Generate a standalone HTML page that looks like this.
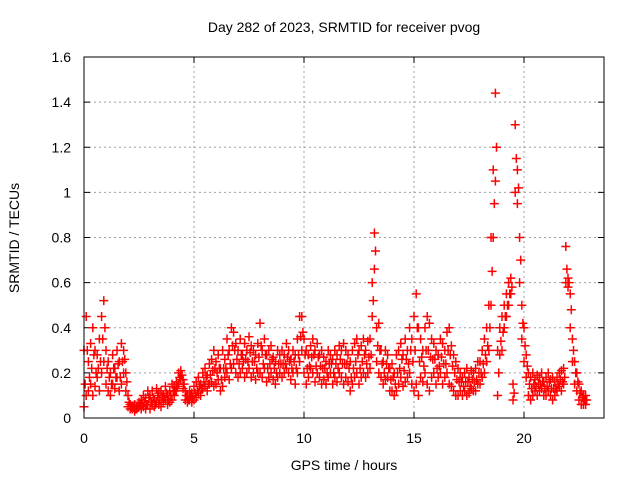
<!DOCTYPE html>
<html><head><meta charset="utf-8"><style>
body{margin:0;background:#fff}
svg{display:block;font-family:"Liberation Sans",sans-serif}
</style></head><body>
<svg id="chart" width="640" height="480">
<text x="344" y="32" text-anchor="middle" font-size="14">Day 282 of 2023, SRMTID for receiver pvog</text>
<text x="344" y="470" text-anchor="middle" font-size="14">GPS time / hours</text>
<text transform="translate(19,238) rotate(-90)" text-anchor="middle" font-size="14">SRMTID / TECUs</text>
<g id="grid"></g><g id="ticks"></g><g id="marks"></g>
<rect x="84" y="57" width="520" height="361" fill="none" stroke="#000" stroke-width="1"/>
</svg>
<script>
const startHour = 0, stepHour = 0.1, midOffset = 0.05;
const xTicks = [0,5,10,15,20];
const yTicks = [0,0.2,0.4,0.6,0.8,1,1.2,1.4,1.6];
const yTickLabels = ["0","0.2","0.4","0.6","0.8","1","1.2","1.4","1.6"];
const srmtidHigh = [
.30,.45,.25,.33,.40,.30,.28,.35,.45,.52,
.30,.25,.20,.28,.22,.30,.25,.33,.30,.20,
.10,.06,.05,.06,.05,.07,.08,.10,.09,.12,
.10,.12,.08,.13,.11,.12,.10,.14,.10,.12,
.15,.14,.16,.20,.21,.17,.12,.10,.12,.11,
.14,.16,.18,.15,.20,.22,.19,.24,.26,.30,
.25,.28,.22,.30,.26,.35,.30,.40,.38,.33,
.30,.35,.28,.33,.30,.36,.32,.30,.28,.33,
.42,.30,.35,.28,.30,.32,.27,.25,.30,.28,
.30,.28,.33,.30,.26,.30,.28,.35,.45,.45,
.35,.30,.28,.32,.35,.30,.33,.28,.30,.27,
.25,.30,.28,.26,.30,.28,.32,.30,.33,.30,
.28,.25,.30,.33,.35,.30,.32,.35,.30,.34,
.35,.60,.82,.40,.42,.30,.25,.30,.28,.22,
.24,.20,.28,.30,.33,.28,.35,.30,.40,.35,
.45,.55,.40,.35,.30,.40,.45,.42,.35,.33,
.30,.28,.35,.33,.30,.38,.40,.32,.28,.25,
.22,.20,.18,.20,.22,.18,.21,.20,.22,.25,
.25,.30,.35,.40,.50,.80,1.10,1.44,.30,.40,
.45,.50,.55,.60,.62,.15,1.30,1.10,.80,.50,
.40,.28,.20,.18,.20,.17,.19,.18,.20,.16,
.18,.20,.17,.18,.16,.18,.20,.21,.22,.76,
.62,.55,.35,.25,.20,.15,.12,.10,.10];
const srmtidMid = [
.15,.30,.18,.22,.28,.20,.22,.25,.35,.40,
.22,.18,.15,.22,.18,.24,.18,.25,.26,.16,
.07,.05,.05,.04,.05,.06,.06,.07,.06,.09,
.07,.09,.06,.10,.08,.09,.09,.11,.08,.10,
.12,.12,.14,.18,.19,.15,.10,.08,.10,.09,
.11,.12,.14,.13,.16,.18,.15,.19,.21,.22,
.20,.22,.17,.22,.22,.28,.24,.32,.30,.26,
.24,.28,.25,.26,.25,.29,.25,.25,.22,.27,
.32,.24,.28,.22,.24,.26,.22,.20,.24,.24,
.24,.24,.27,.25,.22,.25,.22,.28,.36,.38,
.28,.22,.23,.27,.28,.23,.27,.23,.22,.22,
.20,.24,.24,.20,.24,.22,.26,.24,.24,.24,
.22,.18,.22,.25,.28,.22,.25,.28,.24,.27,
.28,.52,.74,.32,.30,.24,.20,.24,.22,.17,
.18,.15,.20,.22,.26,.21,.26,.24,.30,.25,
.30,.40,.25,.27,.23,.30,.30,.27,.26,.26,
.22,.23,.27,.24,.24,.30,.28,.23,.20,.17,
.16,.16,.14,.16,.16,.14,.17,.16,.17,.20,
.20,.24,.28,.32,.40,.65,.95,1.20,.20,.34,
.38,.45,.50,.55,.58,.11,1.15,1.02,.70,.42,
.32,.23,.15,.13,.15,.14,.15,.15,.16,.13,
.14,.16,.13,.13,.13,.15,.17,.16,.18,.66,
.60,.48,.30,.20,.16,.11,.09,.08,.08];
const srmtidLow = [
.05,.10,.12,.15,.10,.14,.18,.12,.20,.25,
.15,.12,.10,.15,.13,.18,.12,.15,.20,.12,
.05,.04,.04,.03,.04,.05,.04,.05,.04,.06,
.04,.06,.05,.07,.06,.05,.07,.08,.06,.07,
.08,.10,.12,.15,.17,.13,.08,.07,.08,.07,
.08,.09,.11,.10,.13,.14,.12,.15,.16,.14,
.15,.17,.12,.14,.18,.20,.17,.22,.24,.20,
.18,.20,.22,.18,.20,.22,.18,.20,.17,.20,
.20,.18,.22,.16,.18,.20,.17,.15,.18,.20,
.18,.20,.22,.20,.17,.20,.15,.20,.25,.30,
.20,.15,.18,.22,.20,.16,.20,.18,.15,.17,
.15,.18,.20,.15,.18,.16,.20,.18,.15,.18,
.16,.12,.15,.18,.20,.15,.18,.20,.18,.20,
.22,.45,.66,.25,.20,.18,.15,.17,.18,.12,
.12,.10,.12,.15,.18,.14,.16,.18,.20,.15,
.12,.15,.10,.18,.16,.20,.15,.12,.18,.20,
.15,.18,.20,.15,.18,.20,.15,.14,.12,.10,
.10,.12,.10,.12,.10,.11,.13,.12,.12,.15,
.15,.18,.20,.25,.30,.50,.80,1.05,.10,.28,
.30,.40,.45,.50,.55,.08,1.00,.95,.60,.35,
.25,.18,.10,.08,.10,.12,.10,.12,.13,.10,
.10,.12,.10,.08,.10,.12,.14,.12,.15,.60,
.58,.40,.25,.15,.12,.08,.06,.06,.06];

const X0=84,X1=604,Y0=418,Y1=57,XMAX=23.636,YMAX=1.6;
function xs(h){return X0+(X1-X0)*h/XMAX;}
function ys(v){return Y0-(Y0-Y1)*v/YMAX;}
const NS="http://www.w3.org/2000/svg";
const grid=document.getElementById('grid'),ticks=document.getElementById('ticks'),marks=document.getElementById('marks');
function mk(tag,attrs,parent){const e=document.createElementNS(NS,tag);for(const k in attrs)e.setAttribute(k,attrs[k]);parent.appendChild(e);return e;}
xTicks.forEach(t=>{
  const x=xs(t);
  if(t>0){const g=mk('line',{x1:x,x2:x,y1:Y0,y2:Y1,stroke:'#a0a0a0','stroke-dasharray':'2,3'},grid);
  
  }
  const l=mk('text',{x:x,y:Y0+25,'text-anchor':'middle','font-size':'14'},ticks);
  l.textContent=t;
  
  
  mk('line',{x1:x,x2:x,y1:Y0,y2:Y0-6,stroke:'#000'},ticks);
  mk('line',{x1:x,x2:x,y1:Y1,y2:Y1+6,stroke:'#000'},ticks);
});
yTicks.forEach((v,i)=>{
  const y=ys(v);
  if(v>0&&v<YMAX){const g=mk('line',{x1:X0,x2:X1,y1:y,y2:y,stroke:'#a0a0a0','stroke-dasharray':'2,3'},grid);
  
  }
  const l=mk('text',{x:X0-13,y:y+5,'text-anchor':'end','font-size':'14'},ticks);
  l.textContent=yTickLabels[i];
  
  
  mk('line',{x1:X0,x2:X0+6,y1:y,y2:y,stroke:'#000'},ticks);
  mk('line',{x1:X1,x2:X1-6,y1:y,y2:y,stroke:'#000'},ticks);
});
function plus(h,v,color){
  const x=xs(h),y=ys(v);
  const p=mk('path',{d:`M${x-4.5},${y}H${x+4.5}M${x},${y-4.5}V${y+4.5}`,stroke:color,'stroke-width':'1.5',fill:'none'},marks);
  
  
}
srmtidLow.forEach((v,i)=>plus(startHour+stepHour*i,v,'#ff0000'));
srmtidMid.forEach((v,i)=>plus(startHour+stepHour*i+midOffset,v,'#ff0000'));
srmtidHigh.forEach((v,i)=>plus(startHour+stepHour*i,v,'#ff0000'));
</script>
</body></html>
